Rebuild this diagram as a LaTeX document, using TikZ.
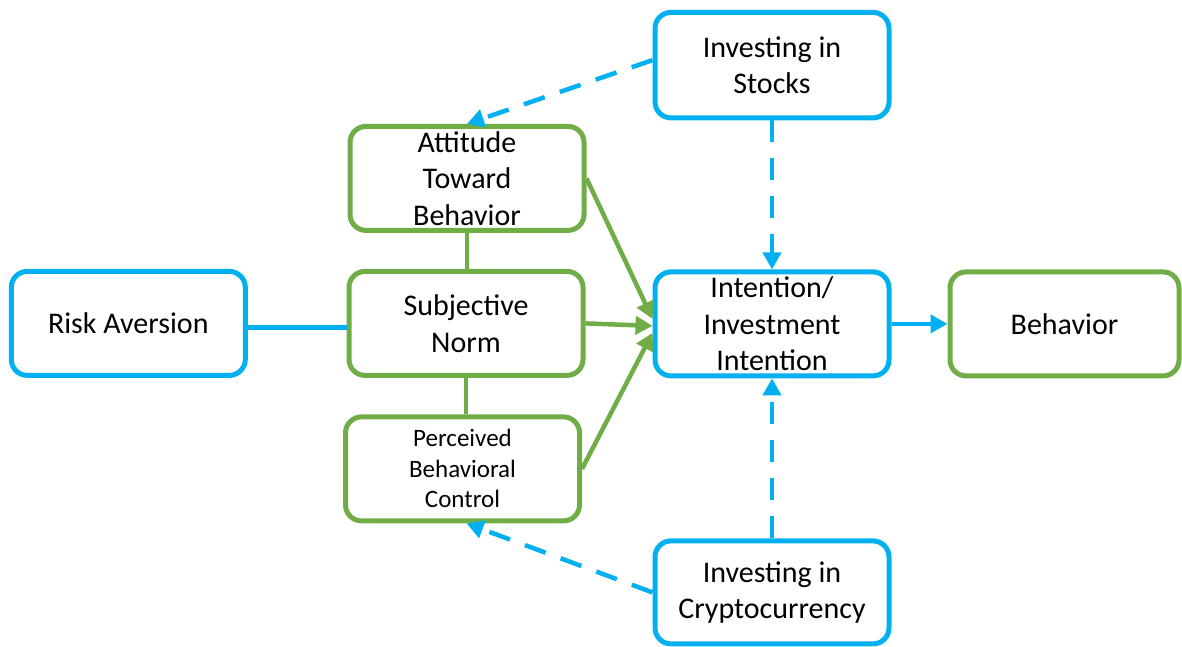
\documentclass[tikz,border=0pt]{standalone}
\usepackage{fontspec}
\setmainfont{Carlito}
\usetikzlibrary{arrows.meta,positioning}
\definecolor{skyblue}{HTML}{00B0F0}
\definecolor{leafgreen}{HTML}{70AD47}

\begin{document}
\begin{tikzpicture}[
  x=1pt, y=1pt,
  font=\fontsize{30}{36.6}\selectfont,
  box/.style={draw, fill=white, line width=5pt, rounded corners=16pt, align=center, inner sep=0pt, minimum width=234pt, minimum height=104pt},
  bluebox/.style={box, draw=skyblue},
  greenbox/.style={box, draw=leafgreen},
  link/.style={line width=4.5pt},
  arr/.style={-{Triangle[length=17pt, width=18pt]}, line width=4.5pt},
  dasharr/.style={arr, skyblue, dash pattern=on 22pt off 16pt}
]
\useasboundingbox (0,0) rectangle (1182,646);

% ---- Attitude / norm / control column ----
\node[greenbox] (sn) at (466,322.6) {Subjective\\ Norm};
\node[greenbox, above=36pt of sn, xshift=1pt] (atb) {Attitude\\ Toward\\ Behavior};
\node[greenbox, below=36.5pt of sn, xshift=-3.5pt, font=\fontsize{25}{30.5}\selectfont] (pbc) {Perceived\\ Behavioral\\ Control};

% ---- Antecedent and outcome ----
\node[bluebox, left=98.7pt of sn] (risk) {Risk Aversion};
\node[bluebox, right=67pt of sn, yshift=-0.5pt] (int) {Intention/\\ Investment\\ Intention};
\node[greenbox, right=56pt of int, minimum width=229pt] (beh) {Behavior};

% ---- Moderators ----
\node[bluebox, above=149pt of int, minimum height=105.5pt] (stocks) {Investing in\\ Stocks};
\node[bluebox, below=160pt of int, minimum height=103pt] (crypto) {Investing in\\ Cryptocurrency};

% ---- Links ----
\draw[link, skyblue] ([yshift=-4pt]risk.east) -- ([yshift=-4pt]sn.west);
\draw[link, leafgreen] (atb.south) -- (atb.south |- sn.north);
\draw[link, leafgreen] (sn.south) -- (sn.south |- pbc.north);

\draw[arr, leafgreen] (atb.east) -- ([yshift=5pt]int.west);
\draw[arr, leafgreen] (sn.east) -- ([yshift=-2pt]int.west);
\draw[arr, leafgreen] (pbc.east) -- ([yshift=-9pt]int.west);
\draw[arr, skyblue] (int.east) -- (beh.west);

\draw[dasharr] ([yshift=5pt]stocks.west) -- (atb.north);
\draw[dasharr] (stocks.south) -- (int.north);
\draw[dasharr] (crypto.north) -- (int.south);
\draw[dasharr] (crypto.west) -- ([xshift=4pt]pbc.south);

\end{tikzpicture}
\end{document}
